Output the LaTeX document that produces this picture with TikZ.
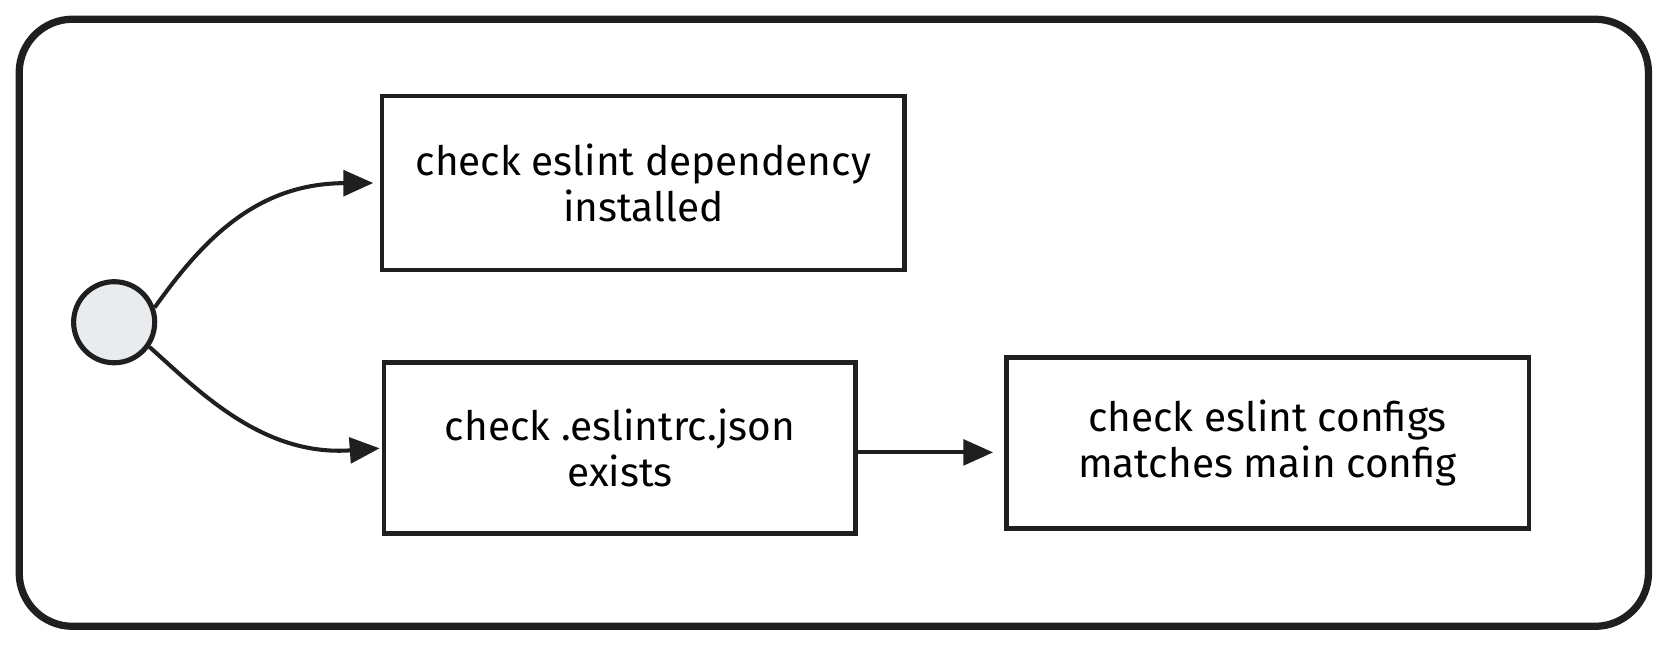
\documentclass[tikz,border=0pt]{standalone}
\usepackage{fontspec}
\setmainfont{Fira Sans}
\usepackage{tikz}
\usetikzlibrary{arrows.meta}

\begin{document}
\begin{tikzpicture}[x=0.5pt,y=-0.5pt]
        \tikzstyle{every node}+=[inner sep=0pt]
        \tikzstyle{checkbox}=[draw=black!88, line width=2.2pt, fill=white, align=center, font=\fontsize{19}{21.5}\selectfont]
        \tikzstyle{flow}=[draw=black!88, line width=1.9pt, -{Triangle[length=14pt,width=12pt]}]
        \useasboundingbox (0,0) rectangle (1568,606);
        \draw [black!88, line width=3.4pt, rounded corners=25pt] (18,18) rectangle (1545,587);
        \node [circle, draw=black!88, line width=2.4pt, fill={rgb,255:red,233;green,236;blue,239}, minimum size=38pt] (start) at (107,302) {};
        \node [checkbox, minimum width=245pt, minimum height=81.5pt] (dep) at (603,171.5) {check eslint dependency\\installed};
        \node [checkbox, minimum width=221pt, minimum height=80pt] (rc) at (581,420) {check .eslintrc.json\\exists};
        \node [checkbox, minimum width=245pt, minimum height=80pt] (cfg) at (1188,415) {check eslint configs\\matches main config};
        \draw [flow, shorten >=3pt] (start.20) .. controls (190,225) and (240,172) .. (dep.west);
        \draw [flow, shorten >=1pt] (start.-35) .. controls (185,365) and (245,428) .. (rc.west);
        \draw [flow, shorten >=5pt] ([yshift=-2pt]rc.east) -- ([yshift=-4.5pt]cfg.west);
    \end{tikzpicture}
\end{document}
